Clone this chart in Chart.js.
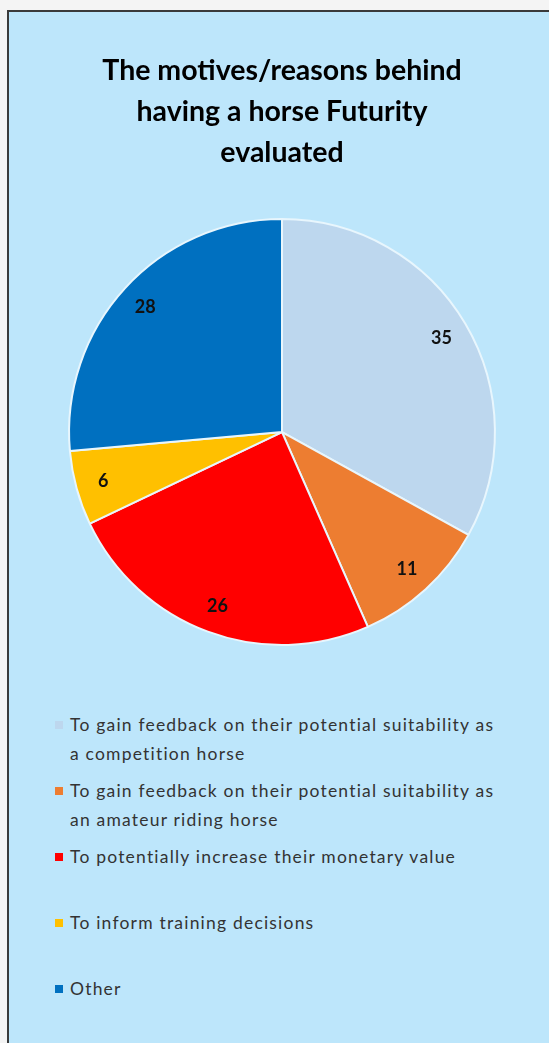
<!DOCTYPE html>
<html>
<head>
<meta charset="utf-8">
<script src="https://cdn.jsdelivr.net/npm/chart.js@4.4.1/dist/chart.umd.min.js"></script>
<style>
  html, body { margin: 0; padding: 0; background: #f4f4f4; overflow: hidden; }
  #frame {
    position: absolute; left: 7px; top: 10px;
    width: 580px; height: 1060px;
    background: #bde6fb; border: 2px solid #3a3a3a;
  }
  #chartBox { position: absolute; left: 1px; top: 0; width: 544px; height: 660px; }
  #legend {
    position: absolute; left: 46px; top: 698px; width: 470px;
    font-family: Lato, "Open Sans", sans-serif; font-size: 17.5px; letter-spacing: 1.2px; color: #333;
  }
  .item { display: flex; align-items: flex-start; height: 66px; }
  .box { width: 8px; height: 8px; margin: 11px 7px 0 0; flex: none; }
  .txt { line-height: 29px; width: 436px; }
</style>
</head>
<body>
<div id="frame">
  <div id="chartBox"><canvas id="pie"></canvas></div>
  <div id="legend"></div>
</div>
<script>
const titleLines = ['The motives/reasons behind', 'having a horse Futurity', 'evaluated'];
const categories = [
  'To gain feedback on their potential suitability as a competition horse',
  'To gain feedback on their potential suitability as an amateur riding horse',
  'To potentially increase their monetary value',
  'To inform training decisions',
  'Other'
];
const counts = [35, 11, 26, 6, 28];
const colors = ['#bdd7ee', '#ed7d31', '#ff0000', '#ffc000', '#0070c0'];

// draws the value of each slice inside the slice, near the outer edge
const sliceLabels = {
  id: 'sliceLabels',
  afterDatasetsDraw(chart) {
    const ctx = chart.ctx;
    const meta = chart.getDatasetMeta(0);
    ctx.save();
    ctx.font = 'bold 18px Lato, sans-serif';
    ctx.fillStyle = '#111';
    ctx.textAlign = 'center';
    ctx.textBaseline = 'middle';
    meta.data.forEach((arc, i) => {
      const mid = (arc.startAngle + arc.endAngle) / 2;
      const r = arc.outerRadius * 0.87;
      ctx.fillText(String(counts[i]), arc.x + Math.cos(mid) * r, arc.y + Math.sin(mid) * r);
    });
    ctx.restore();
  }
};

const chart = new Chart(document.getElementById('pie').getContext('2d'), {
  type: 'pie',
  data: {
    labels: categories,
    datasets: [{
      data: counts,
      backgroundColor: colors,
      borderColor: '#e8f6fd',
      borderWidth: 2
    }]
  },
  options: {
    responsive: true,
    maintainAspectRatio: false,
    animation: false,
    layout: { padding: { bottom: 26 } },
    plugins: {
      legend: { display: false },
      tooltip: { enabled: false },
      title: {
        display: true,
        text: titleLines,
        color: '#000',
        font: { family: 'Lato, sans-serif', size: 28.5, weight: 'bold', lineHeight: 1.44 },
        padding: { top: 38, bottom: 45 }
      }
    }
  },
  plugins: [sliceLabels]
});

// html legend built from the chart's own legend items
const legendEl = document.getElementById('legend');
chart.options.plugins.legend.labels.generateLabels(chart).forEach(item => {
  const row = document.createElement('div');
  row.className = 'item';
  const box = document.createElement('span');
  box.className = 'box';
  box.style.background = item.fillStyle;
  const txt = document.createElement('span');
  txt.className = 'txt';
  txt.textContent = item.text;
  row.appendChild(box);
  row.appendChild(txt);
  legendEl.appendChild(row);
});
</script>
</body>
</html>
